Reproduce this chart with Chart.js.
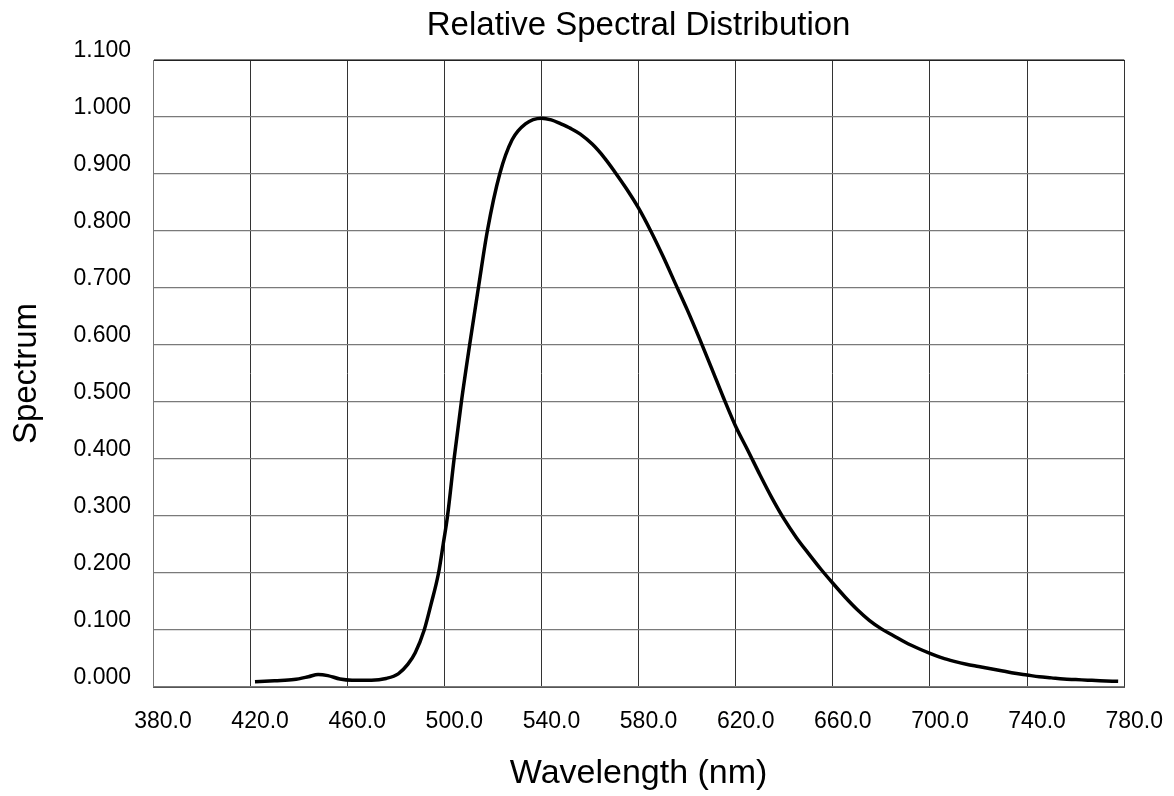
<!DOCTYPE html>
<html>
<head>
<meta charset="utf-8">
<script src="https://cdn.jsdelivr.net/npm/chart.js@4.4.1/dist/chart.umd.min.js"></script>
<style>
  html, body { margin: 0; padding: 0; background: #fff; }
  #box { width: 1174px; height: 796px; }
</style>
</head>
<body>
<div id="box"><canvas id="spectrumChart"></canvas></div>
<script>
// longueurs d'onde (nm) et spectre relatif
const wavelengths = [422, 430, 438, 444, 448, 452, 457, 462, 470, 476, 481, 485, 488, 491.7, 494.5, 497.6, 499.5, 501.3, 504, 507, 510.4, 514, 517.7, 522.8, 527.9, 533.4, 540, 544, 548, 552, 556, 561, 566, 570, 575, 580, 585, 590, 595, 600, 605, 610, 615, 620, 625, 630, 635, 640, 645, 650, 655, 660, 665, 670, 675, 680, 685, 690, 695, 700, 705, 710, 715, 720, 725, 730, 735, 740, 745, 750, 755, 760, 765, 770, 777.5];
const spectrum = [0.009, 0.011, 0.013, 0.018, 0.022, 0.020, 0.014, 0.012, 0.012, 0.015, 0.023, 0.040, 0.060, 0.100, 0.145, 0.200, 0.250, 0.300, 0.400, 0.500, 0.600, 0.700, 0.800, 0.900, 0.960, 0.988, 0.998, 0.995, 0.988, 0.980, 0.970, 0.952, 0.928, 0.905, 0.874, 0.840, 0.800, 0.756, 0.709, 0.662, 0.612, 0.560, 0.507, 0.457, 0.415, 0.372, 0.331, 0.294, 0.262, 0.234, 0.207, 0.182, 0.158, 0.136, 0.117, 0.102, 0.090, 0.078, 0.068, 0.059, 0.051, 0.045, 0.040, 0.036, 0.032, 0.028, 0.024, 0.021, 0.018, 0.016, 0.014, 0.013, 0.012, 0.011, 0.010];

// axes
const xMin = 380, xMax = 780, xStep = 40;
const yMin = 0, yMax = 1.1, yStep = 0.1;

const titleText = 'Relative Spectral Distribution';
const xTitle = 'Wavelength (nm)';
const yTitle = 'Spectrum';

const fontFamily = '"Liberation Sans", Arial, sans-serif';

function buildPoints() {
    return wavelengths.map((w, i) => ({ x: w, y: spectrum[i] }));
}

function createChart() {
    const ctx = document.getElementById('spectrumChart').getContext('2d');
    new Chart(ctx, {
        type: 'line',
        data: {
            datasets: [{
                data: buildPoints(),
                borderColor: '#000',
                borderWidth: 3.5,
                pointRadius: 0,
                cubicInterpolationMode: 'monotone',
                fill: false
            }]
        },
        options: {
            responsive: true,
            maintainAspectRatio: false,
            animation: false,
            layout: { padding: { top: 0, left: 0, right: 46, bottom: 0 } },
            plugins: {
                legend: { display: false },
                tooltip: { enabled: false }
            },
            scales: {
                // axe du haut : porte seulement le titre, centré sur la zone du graphe
                top: {
                    type: 'linear',
                    position: 'top',
                    min: xMin,
                    max: xMax,
                    afterFit: s => { s.height = 60; },
                    grid: { display: false, drawTicks: false },
                    border: { color: '#222', width: 1 },
                    ticks: { display: false },
                    title: {
                        display: true,
                        text: titleText,
                        color: '#000',
                        font: { family: fontFamily, size: 33 },
                        padding: { top: 6, bottom: 0 }
                    }
                },
                x: {
                    type: 'linear',
                    min: xMin,
                    max: xMax,
                    afterFit: s => { s.height = 109; },
                    grid: { color: '#333', lineWidth: 1, drawTicks: false },
                    border: { color: '#555', width: 1 },
                    ticks: {
                        stepSize: xStep,
                        color: '#000',
                        padding: 21,
                        labelOffset: 10,
                        maxRotation: 0,
                        font: { family: fontFamily, size: 23 },
                        callback: v => v.toFixed(1)
                    },
                    title: {
                        display: true,
                        text: xTitle,
                        color: '#000',
                        font: { family: fontFamily, size: 34 },
                        padding: { top: 0, bottom: 2 }
                    }
                },
                y: {
                    min: yMin,
                    max: yMax,
                    afterFit: s => { s.width = 153; },
                    grid: { color: '#7a7a7a', lineWidth: 1.3, drawTicks: false },
                    border: { color: '#777', width: 1 },
                    ticks: {
                        stepSize: yStep,
                        color: '#000',
                        padding: 22,
                        labelOffset: -9,
                        font: { family: fontFamily, size: 23 },
                        callback: v => v.toFixed(3)
                    },
                    title: {
                        display: true,
                        text: yTitle,
                        color: '#000',
                        font: { family: fontFamily, size: 33 },
                        padding: { top: 7, bottom: 10 }
                    }
                }
            }
        }
    });
}

window.addEventListener('load', createChart);
</script>
</body>
</html>
